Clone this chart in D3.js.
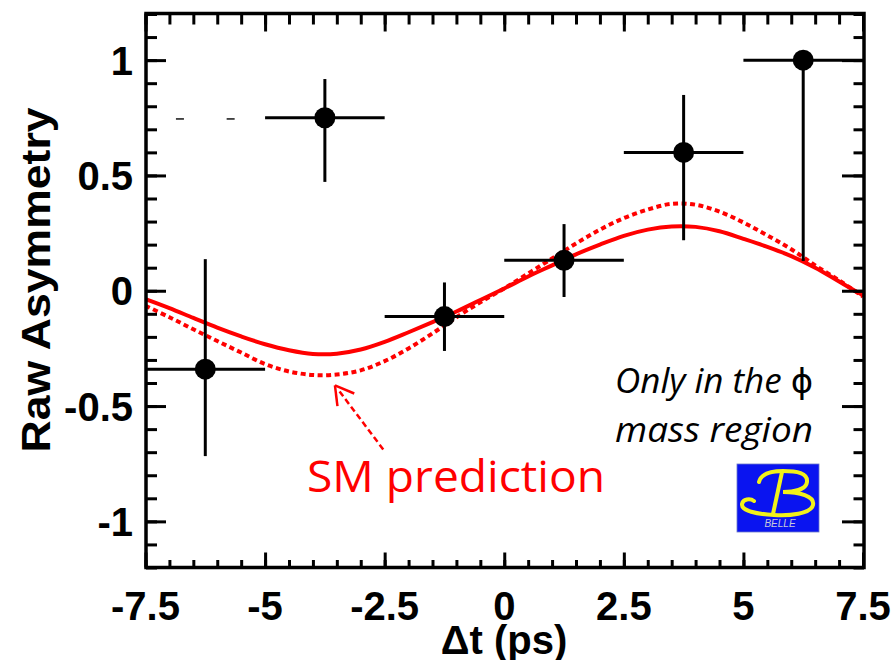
<!DOCTYPE html>
<html><head><meta charset="utf-8">
<script src="https://cdn.jsdelivr.net/npm/d3@7/dist/d3.min.js"></script>
<style>body{margin:0;background:#fff}svg{display:block}</style>
</head><body><svg id="c" width="894" height="660"></svg>
<script>
// ---------- data ----------
const binCenters = [-6.25, -3.75, -1.25, 1.25, 3.75, 6.25];
const binLow     = [-7.5, -5, -2.5, 0, 2.5, 5];
const binHigh    = [-5, -2.5, 0, 2.5, 5, 7.5];
const asym       = [-0.34, 0.75, -0.112, 0.132, 0.60, 1.0];
const asymHigh   = [0.137, 0.918, 0.036, 0.289, 0.849, 1.0];
const asymLow    = [-0.717, 0.472, -0.261, -0.027, 0.219, 0.129];

const curveT = [-7.5,-7,-6.5,-6,-5.5,-5,-4.5,-4,-3.5,-3,-2.5,-2,-1.5,-1,-0.5,0,
                0.5,1,1.5,2,2.5,3,3.5,4,4.5,5,5.5,6,6.5,7,7.5];
const fitSolid = [-0.036,-0.075,-0.118,-0.16,-0.198,-0.232,-0.258,-0.274,-0.273,-0.255,-0.222,-0.18,-0.136,-0.09,-0.04,0.01,
                  0.062,0.11,0.158,0.2,0.238,0.265,0.279,0.277,0.258,0.225,0.19,0.15,0.1,0.04,-0.02];
const smDotted = [-0.065,-0.115,-0.167,-0.218,-0.268,-0.318,-0.35,-0.365,-0.363,-0.345,-0.305,-0.25,-0.185,-0.115,-0.05,0.01,
                  0.075,0.14,0.205,0.265,0.315,0.352,0.377,0.373,0.343,0.296,0.24,0.18,0.11,0.045,-0.025];

const strayT = [-6.78, -5.72];
const strayY = [0.745, 0.745];

const xTicks = [-7.5, -5, -2.5, 0, 2.5, 5, 7.5];
const xTickLabels = ["-7.5", "-5", "-2.5", "0", "2.5", "5", "7.5"];
const yTicks = [-1, -0.5, 0, 0.5, 1];
const yTickLabels = ["-1", "-0.5", "0", "0.5", "1"];

// ---------- layout ----------
const svg = d3.select("#c");
const x = d3.scaleLinear().domain([-7.5, 7.5]).range([145.5, 863]);
const y = d3.scaleLinear().domain([-1.2, 1.2]).range([567.5, 14]);
const L = 146, R = 864, T = 13.5, B = 567.5;
const RED = "#ff0000";

// curves
const pts = (vals) => curveT.map((t, i) => [t, vals[i]]);
const line = d3.line().x(d => x(d[0])).y(d => y(d[1])).curve(d3.curveCatmullRom);
svg.append("path").attr("d", line(pts(smDotted)))
  .attr("fill", "none").attr("stroke", RED).attr("stroke-width", 4)
  .attr("stroke-dasharray", "5,3.5");
svg.append("path").attr("d", line(pts(fitSolid)))
  .attr("fill", "none").attr("stroke", RED).attr("stroke-width", 4);

// stray dashes
strayT.forEach((t, i) => {
  svg.append("line").attr("x1", x(t) - 4).attr("x2", x(t) + 4)
    .attr("y1", y(strayY[i])).attr("y2", y(strayY[i]))
    .attr("stroke", "#222").attr("stroke-width", 1.6);
});

// data points with error bars
const pg = svg.append("g");
binCenters.forEach((c, i) => {
  pg.append("line").attr("x1", x(binLow[i])).attr("x2", x(binHigh[i]))
    .attr("y1", y(asym[i])).attr("y2", y(asym[i]))
    .attr("stroke", "#000").attr("stroke-width", 3);
  pg.append("line").attr("x1", x(c)).attr("x2", x(c))
    .attr("y1", y(asymHigh[i])).attr("y2", y(asymLow[i]))
    .attr("stroke", "#000").attr("stroke-width", 3);
  pg.append("circle").attr("cx", x(c)).attr("cy", y(asym[i])).attr("r", 10.5).attr("fill", "#000");
});

// frame + ticks via d3 axes
function styleAxis(g) {
  g.select(".domain").remove();
  g.selectAll("line").attr("stroke", "#000").attr("stroke-width", 3);
  g.selectAll("text").remove();
}
const xMinor = d3.range(-7.5, 7.51, 0.5);
const yMinor = d3.range(-12, 13, 1).map(v => v / 10);
svg.append("g").attr("transform", `translate(0,${B})`).call(d3.axisBottom(x).tickValues(xMinor).tickSize(-7.5)).call(styleAxis);
svg.append("g").attr("transform", `translate(0,${B})`).call(d3.axisBottom(x).tickValues(xTicks).tickSize(-15)).call(styleAxis);
svg.append("g").attr("transform", `translate(0,${T})`).call(d3.axisTop(x).tickValues(xMinor).tickSize(-11)).call(styleAxis);
svg.append("g").attr("transform", `translate(0,${T})`).call(d3.axisTop(x).tickValues(xTicks).tickSize(-18)).call(styleAxis);
svg.append("g").attr("transform", `translate(${L},0)`).call(d3.axisLeft(y).tickValues(yMinor).tickSize(-11)).call(styleAxis);
svg.append("g").attr("transform", `translate(${L},0)`).call(d3.axisLeft(y).tickValues(yTicks).tickSize(-20)).call(styleAxis);
svg.append("g").attr("transform", `translate(${R},0)`).call(d3.axisRight(y).tickValues(yMinor).tickSize(-10.5)).call(styleAxis);
svg.append("g").attr("transform", `translate(${R},0)`).call(d3.axisRight(y).tickValues(yTicks).tickSize(-22)).call(styleAxis);
svg.append("rect").attr("x", L).attr("y", T).attr("width", R - L).attr("height", B - T)
  .attr("fill", "none").attr("stroke", "#000").attr("stroke-width", 3.5);

// tick labels
const lblFont = "'Liberation Sans', Arial, Helvetica, sans-serif";
svg.append("g").selectAll("text").data(xTicks).join("text")
  .attr("x", d => x(d)).attr("y", 620).attr("text-anchor", "middle")
  .attr("font-family", lblFont).attr("font-weight", "bold").attr("font-size", 40)
  .text((d, i) => xTickLabels[i]);
svg.append("g").selectAll("text").data(yTicks).join("text")
  .attr("x", 133).attr("y", d => y(d) + 14.5).attr("text-anchor", "end")
  .attr("font-family", lblFont).attr("font-weight", "bold").attr("font-size", 40)
  .text((d, i) => yTickLabels[i]);

// axis titles
svg.append("text").attr("x", 504).attr("y", 654).attr("text-anchor", "middle")
  .attr("font-family", lblFont).attr("font-weight", "bold").attr("font-size", 40)
  .text("\u0394t (ps)");
svg.append("text").attr("transform", "translate(50,280) rotate(-90)").attr("text-anchor", "middle")
  .attr("font-family", lblFont).attr("font-weight", "bold").attr("font-size", 41)
  .attr("textLength", 345).attr("lengthAdjust", "spacingAndGlyphs")
  .text("Raw Asymmetry");

// annotations
const annFont = "'Open Sans', 'Noto Sans', sans-serif";
svg.append("text").attr("x", 307).attr("y", 491.5)
  .attr("font-family", annFont).attr("font-size", 44).attr("fill", RED)
  .attr("textLength", 298).attr("lengthAdjust", "spacingAndGlyphs")
  .text("SM prediction");
const t1 = svg.append("text").attr("x", 615).attr("y", 393)
  .attr("font-family", annFont).attr("font-size", 35).attr("fill", "#000");
t1.append("tspan").attr("font-style", "italic").text("Only in the ");
t1.append("tspan").attr("font-family", "'DejaVu Sans', sans-serif").attr("font-style", "normal").attr("font-size", 34).text("\u03D5");
svg.append("text").attr("x", 615).attr("y", 441.5)
  .attr("font-family", annFont).attr("font-style", "italic").attr("font-size", 35).attr("fill", "#000")
  .attr("textLength", 198).attr("lengthAdjust", "spacingAndGlyphs")
  .text("mass region");

// arrow
const tip = [x(-3.54), y(-0.41)], tail = [x(-2.53), y(-0.688)];
svg.append("line").attr("x1", tail[0]).attr("y1", tail[1]).attr("x2", tip[0] + 3).attr("y2", tip[1] + 4)
  .attr("stroke", RED).attr("stroke-width", 2.5).attr("stroke-dasharray", "6,3.5");
const dx = tail[0] - tip[0], dy = tail[1] - tip[1], len = Math.hypot(dx, dy);
const ux = dx / len, uy = dy / len;
[30, -30].forEach(a => {
  const r = a * Math.PI / 180;
  const vx = ux * Math.cos(r) - uy * Math.sin(r), vy = ux * Math.sin(r) + uy * Math.cos(r);
  svg.append("line").attr("x1", tip[0]).attr("y1", tip[1])
    .attr("x2", tip[0] + vx * 21).attr("y2", tip[1] + vy * 21)
    .attr("stroke", RED).attr("stroke-width", 2.5);
});

// Belle logo
const logo = svg.append("g").attr("transform", "translate(737,464)");
logo.append("rect").attr("width", 82).attr("height", 68).attr("fill", "#0a14f0").attr("stroke", "#6b78c8").attr("stroke-width", 0.8);
logo.append("path")
  .attr("d", "M22,18 C24,10 34,7 46,7 C60,7 71,9 70,18 C69,26 56,28 46,28 C62,28 78,32 76,41 C74,50 52,52 37,51 C20,50 4,47 5,40 C6,35 13,34 17,37")
  .attr("fill", "none").attr("stroke", "#f2f21a").attr("stroke-width", 4).attr("stroke-linecap", "round");
logo.append("path").attr("d", "M45,8 L36,50").attr("fill", "none").attr("stroke", "#f2f21a").attr("stroke-width", 4);
logo.append("text").attr("x", 43).attr("y", 63).attr("text-anchor", "middle")
  .attr("font-family", lblFont).attr("font-style", "italic").attr("font-size", 10).attr("fill", "#c8c8d8")
  .text("BELLE");
</script></body></html>
